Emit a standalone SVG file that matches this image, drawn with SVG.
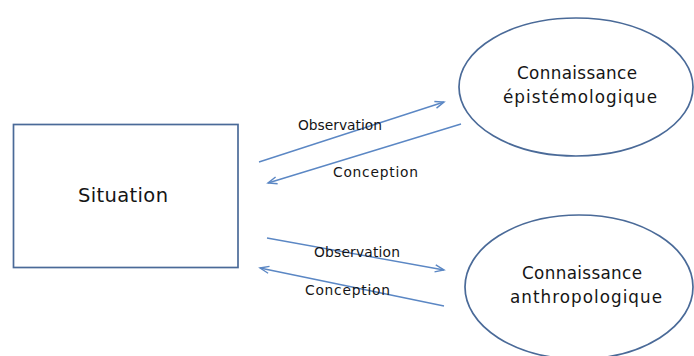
<svg xmlns="http://www.w3.org/2000/svg" width="694" height="356" viewBox="0 0 694 356">
  <defs>
    <style>
      .node { fill: #ffffff; stroke: #4a6a98; stroke-width: 1.7; }
      .lbl { font-family: "DejaVu Sans", "Liberation Sans", sans-serif; fill: #151515; text-anchor: middle; }
      .big { font-size: 16.8px; }
      .sit { font-size: 19.5px; }
      .edge { font-family: "DejaVu Sans", "Liberation Sans", sans-serif; font-size: 13.8px; fill: #151515; }
      .conn { stroke: #5b87c4; stroke-width: 1.4; fill: none; marker-end: url(#arr); }
    </style>
    <marker id="arr" markerWidth="12" markerHeight="10" refX="10" refY="4" orient="auto" markerUnits="userSpaceOnUse" viewBox="0 0 12 8">
      <path d="M1,0.5 L10,4 L1,7.5" fill="none" stroke="#5b87c4" stroke-width="1.4"/>
    </marker>
  </defs>
  <rect width="694" height="356" fill="#ffffff"/>

  <g id="situation">
    <rect class="node" x="13.5" y="124.5" width="224.5" height="143"/>
    <text class="lbl sit" x="123" y="202" textLength="90" lengthAdjust="spacing">Situation</text>
  </g>

  <g id="connaissance-epistemologique">
    <ellipse class="node" cx="576" cy="87" rx="117" ry="69"/>
    <text class="lbl big" x="577" y="79" textLength="120" lengthAdjust="spacing">Connaissance</text>
    <text class="lbl big" x="580" y="103" textLength="154" lengthAdjust="spacing">épistémologique</text>
  </g>

  <g id="connaissance-anthropologique">
    <ellipse class="node" cx="579" cy="287" rx="114" ry="72"/>
    <text class="lbl big" x="582" y="279" textLength="120" lengthAdjust="spacing">Connaissance</text>
    <text class="lbl big" x="586" y="303" textLength="152" lengthAdjust="spacing">anthropologique</text>
  </g>

  <g id="connectors">
    <line class="conn" x1="259" y1="162" x2="444" y2="102"/>
    <line class="conn" x1="461" y1="124" x2="268" y2="183"/>
    <line class="conn" x1="267" y1="238" x2="444" y2="270"/>
    <line class="conn" x1="444" y1="306" x2="260" y2="268"/>
    <text class="edge" x="298" y="130" textLength="84" lengthAdjust="spacing">Observation</text>
    <text class="edge" x="333" y="177" textLength="85" lengthAdjust="spacing">Conception</text>
    <text class="edge" x="314" y="257" textLength="86" lengthAdjust="spacing">Observation</text>
    <text class="edge" x="305" y="295" textLength="85" lengthAdjust="spacing">Conception</text>
  </g>
</svg>
